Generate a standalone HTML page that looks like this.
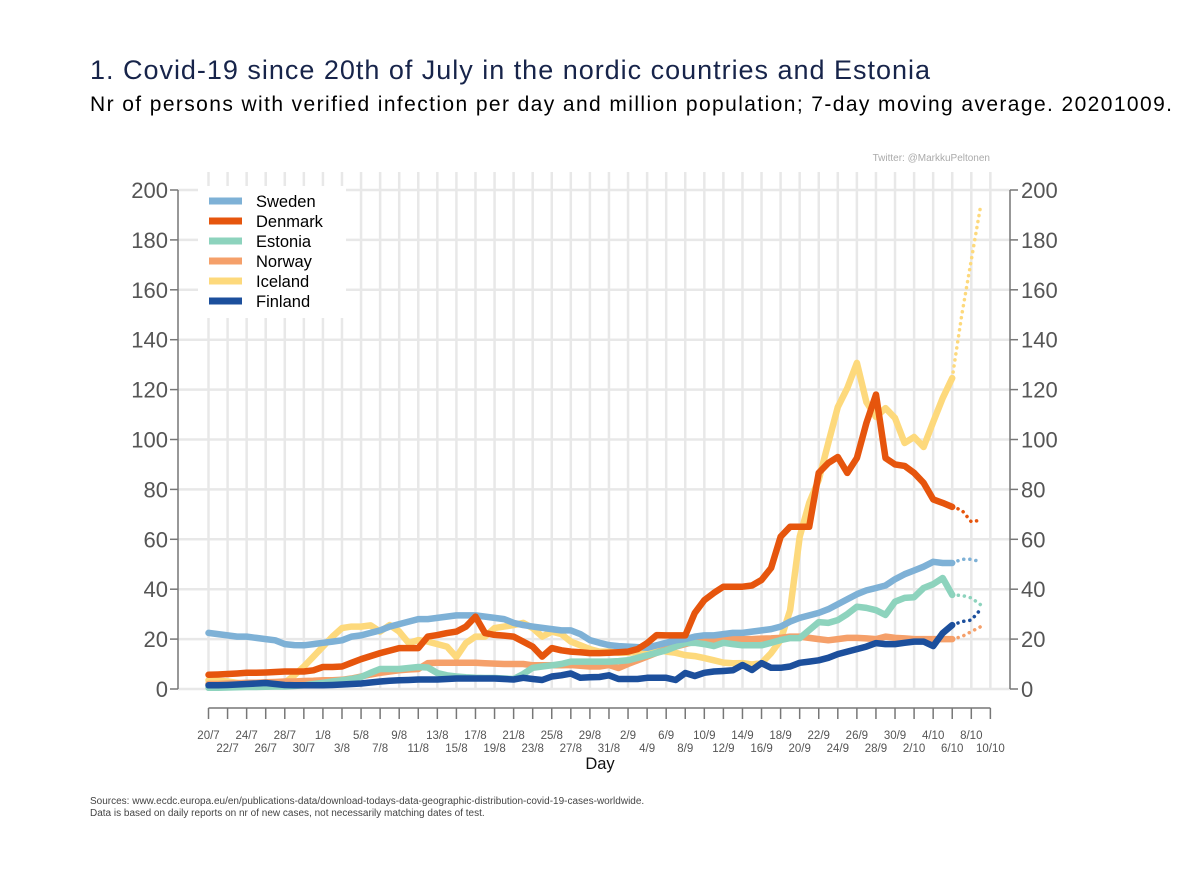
<!DOCTYPE html>
<html><head><meta charset="utf-8"><style>
body{margin:0;background:#fff;font-family:"Liberation Sans",Arial,sans-serif}
#wrap{position:relative;width:1200px;height:873px;overflow:hidden}
</style></head><body>
<div id="wrap">
<svg id="chart" width="1200" height="873" xmlns="http://www.w3.org/2000/svg"></svg>
</div>
<script>
const categories=["20/7","22/7","24/7","26/7","28/7","30/7","1/8","3/8","5/8","7/8","9/8","11/8","13/8","15/8","17/8","19/8","21/8","23/8","25/8","27/8","29/8","31/8","2/9","4/9","6/9","8/9","10/9","12/9","14/9","16/9","18/9","20/9","22/9","24/9","26/9","28/9","30/9","2/10","4/10","6/10","8/10","10/10"];
const yTicks=[0,20,40,60,80,100,120,140,160,180,200];
const seriesNames=["Iceland","Norway","Estonia","Sweden","Denmark","Finland"];
const legendOrder=["Sweden","Denmark","Estonia","Norway","Iceland","Finland"];
const sweden=[22.5,22,21.5,21,21,20.5,20,19.5,18,17.6,17.5,18,18.5,19,19.5,21,21.5,22.5,23.5,25,26,27,28,28,28.5,29,29.5,29.5,29.5,29,28.5,28,26.5,25.6,25,24.5,24,23.5,23.5,22,19.6,18.5,17.6,17.2,17,16.8,16.5,17.5,18.5,19.5,20,21,21.5,21.5,22,22.5,22.5,23,23.5,24,25,27,28.5,29.5,30.5,32,34,36,38,39.5,40.5,41.5,44,46,47.5,49,51,50.5,50.5];
const swedenProj=[50.5,52,52,51];
const denmark=[5.7,5.8,6,6.2,6.5,6.5,6.6,6.8,7,7,7,7.5,8.8,8.8,9,10.5,12,13.2,14.4,15.4,16.4,16.4,16.4,21,21.6,22.4,23,25,29,22.4,21.7,21.4,21,19,17,13,16.4,15.5,15,14.7,14.4,14.4,14.5,14.7,15,16,18.4,21.6,21.5,21.5,21.5,30.5,35.6,38.5,41,41,41,41.5,43.7,48.5,61,65,65,65,86.6,90.6,93,86.6,92.6,106.6,118,92.6,90,89.4,86.6,82.6,76,74.6,73];
const denmarkProj=[73,71.7,67,67.7];
const estonia=[0.5,0.5,0.6,0.7,0.8,0.8,0.9,1,1,1.2,1.5,2,2.5,3,3.5,4,4.8,6.5,8,8,8,8.4,8.8,8.6,6.4,5.5,5,4.7,4.5,4.4,4.4,4.2,4,6,8.5,9,9.5,10,11,11,11,11,11,11.2,11.5,12.5,13.5,14.5,15.5,17,18.4,18.5,18,17.2,18.5,18,17.5,17.5,17.5,18.5,19.6,20.4,20.4,23.6,26.8,26.5,27.6,30,33,32.5,31.6,29.7,35,36.5,36.8,40.5,42,44.5,37.7];
const estoniaProj=[37.7,37.5,36.5,33.7];
const norway=[2,2,2.2,2.3,2.5,2.5,2.7,2.8,3,3,3.2,3.3,3.5,3.5,3.7,4.2,5,5.8,6.5,7,7.5,7.8,8,10.4,10.5,10.5,10.5,10.5,10.5,10.3,10.2,10,10,10,9.5,9.5,9.5,9.5,9.6,9.3,9,9,9.6,8.4,10,11.5,13,14.5,16,17,18,19,19.5,19.5,19.8,20,20,20,20.2,20.3,20.5,21,21,20.5,20,19.5,20,20.5,20.5,20.3,20,21,20.5,20.3,20,20,20,20,20];
const norwayProj=[20,21,23,25];
const iceland=[3.5,3.3,3,2.5,2,2,2,2,2.5,5.5,9,13,17,21,24.4,25,25,25.5,23,25.6,23,18.4,19.6,19,18,17,12.8,18.4,21,21,24.4,25,25.6,26.5,24.4,21,23,22,19,17.5,16,15,15,14.5,14.5,15,15.5,16,15,14.5,13.6,13.2,12.4,11.5,10.6,10.3,10.4,9.8,10.4,14.4,19.6,31.6,61,74.6,83.8,98.6,113,120.6,130.7,115,109,112.6,108.6,98.6,101,97,107,116.6,124.6];
const icelandProj=[124.6,150,172,194];
const finland=[1.5,1.5,1.6,1.8,2,2.2,2.4,2,1.6,1.5,1.5,1.5,1.5,1.6,1.8,2,2.2,2.6,3,3.3,3.5,3.6,3.8,3.8,3.8,4,4.2,4.2,4.2,4.2,4.2,4,3.8,4.5,4,3.6,5,5.5,6.2,4.5,4.7,4.8,5.5,4,4,4,4.5,4.5,4.5,3.6,6.4,5.2,6.5,7,7.2,7.5,9.6,7.6,10.4,8.5,8.5,9,10.5,11,11.5,12.5,14,15,16,17,18.4,18,18,18.5,19,19,17.2,22.4,25.6];
const finlandProj=[25.6,27,27.6,32];
const series={Sweden:[sweden,swedenProj,"#7eb1d6"],Denmark:[denmark,denmarkProj,"#e6550d"],Estonia:[estonia,estoniaProj,"#8dd3bd"],Norway:[norway,norwayProj,"#f5a06a"],Iceland:[iceland,icelandProj,"#fdd97c"],Finland:[finland,finlandProj,"#1c4f9c"]};

const NS="http://www.w3.org/2000/svg";
const svg=document.getElementById("chart");
const X0=208.5,DX=9.535,Y0=689,DY=2.495;
const xs=d=>X0+d*DX, ys=v=>Y0-v*DY;
function mk(tag,attrs,parent,text){const e=document.createElementNS(NS,tag);for(const k in attrs)e.setAttribute(k,attrs[k]);if(text!==undefined)e.textContent=text;(parent||svg).appendChild(e);return e;}

let t=mk("text",{x:90,y:79,"font-size":27,fill:"#17244a",textLength:840,lengthAdjust:"spacing"},svg,"1. Covid-19 since 20th of July in the nordic countries and Estonia");


t=mk("text",{x:90,y:111,"font-size":21,fill:"#000",textLength:1082,lengthAdjust:"spacing"},svg,"Nr of persons with verified infection per day and million population; 7-day moving average. 20201009.");


t=mk("text",{x:990,y:161,"font-size":10,fill:"#aaa","text-anchor":"end"},svg,"Twitter: @MarkkuPeltonen");



const grid=mk("g",{});


for(let d=0;d<=82;d+=2){mk("line",{x1:xs(d),x2:xs(d),y1:172,y2:689,stroke:"#e8e8e8","stroke-width":2.5},grid);}
yTicks.forEach(v=>{mk("line",{x1:178,x2:1010,y1:ys(v),y2:ys(v),stroke:"#e8e8e8","stroke-width":2.5},grid);});

const ax=mk("g",{stroke:"#777","stroke-width":1.5,fill:"none"});


mk("line",{x1:178,x2:178,y1:ys(200),y2:ys(0)},ax);
mk("line",{x1:1010,x2:1010,y1:ys(200),y2:ys(0)},ax);
mk("line",{x1:xs(0),x2:xs(82),y1:708,y2:708},ax);
yTicks.forEach(v=>{
 mk("line",{x1:170,x2:178,y1:ys(v),y2:ys(v)},ax);
 mk("line",{x1:1010,x2:1018,y1:ys(v),y2:ys(v)},ax);
 let a=mk("text",{x:168,y:ys(v)+8,"font-size":22,fill:"#555","text-anchor":"end"},svg,String(v));
 
 
 let b=mk("text",{x:1021,y:ys(v)+8,"font-size":22,fill:"#555"},svg,String(v));
 
 
});
categories.forEach((c,i)=>{
 const d=i*2;
 mk("line",{x1:xs(d),x2:xs(d),y1:708,y2:719},ax);
 let a=mk("text",{x:xs(d),y:i%2===0?739:752,"font-size":11.5,fill:"#555","text-anchor":"middle"},svg,c);
 
 
});
t=mk("text",{x:600,y:769,"font-size":16.5,fill:"#111","text-anchor":"middle"},svg,"Day");



seriesNames.forEach(n=>{
 const [vals,proj,col]=series[n];
 const g=mk("g",{});
 
 
 const p=vals.map((v,d)=>xs(d).toFixed(1)+","+ys(v).toFixed(1)).join(" ");
 mk("polyline",{points:p,fill:"none",stroke:col,"stroke-width":6.5,"stroke-linejoin":"round","stroke-linecap":"round"},g);
 const off=vals.length-1;
 const q=proj.map((v,k)=>xs(off+k).toFixed(1)+","+ys(v).toFixed(1)).join(" ");
 mk("polyline",{points:q,fill:"none",stroke:col,"stroke-width":3.5,"stroke-dasharray":"0.1 6","stroke-linecap":"round"},g);
});

const lg=mk("g",{});


mk("rect",{x:198,y:186,width:148,height:132,fill:"#fff"},lg);
legendOrder.forEach((n,i)=>{
 const y=201+i*20;
 const e=mk("g",{},lg);
 
 
 mk("line",{x1:209,x2:242,y1:y,y2:y,stroke:series[n][2],"stroke-width":7},e);
 mk("text",{x:256,y:y+6,"font-size":16.5,fill:"#000"},e,n);
});

t=mk("text",{x:90,y:804,"font-size":10,fill:"#444"},svg,"Sources: www.ecdc.europa.eu/en/publications-data/download-todays-data-geographic-distribution-covid-19-cases-worldwide.");


t=mk("text",{x:90,y:816,"font-size":10,fill:"#444"},svg,"Data is based on daily reports on nr of new cases, not necessarily matching dates of test.");


</script>
</body></html>
